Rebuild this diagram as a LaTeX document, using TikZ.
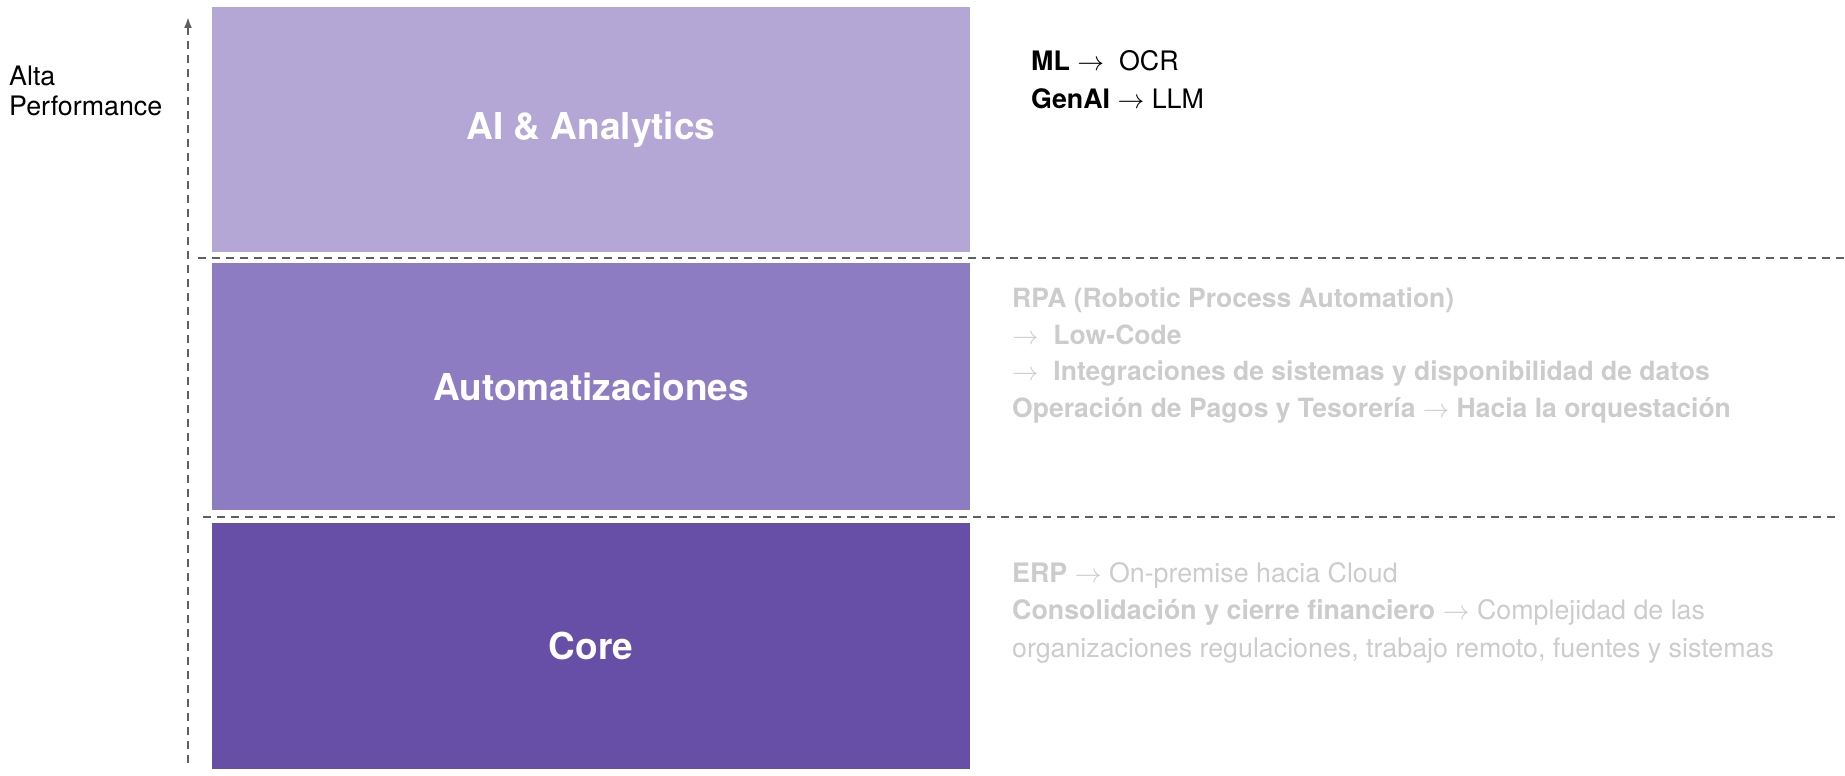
\documentclass[tikz,border=0pt]{standalone}
\usepackage{fix-cm}
\usepackage{fontspec}
\setmainfont{TeX Gyre Heros}
\usepackage{tikz}
\usetikzlibrary{arrows.meta, positioning}

\definecolor{aipurple}{HTML}{B4A7D6}
\definecolor{autopurple}{HTML}{8E7CC3}
\definecolor{corepurple}{HTML}{674EA7}
\definecolor{sepgray}{HTML}{5F5F5F}
\definecolor{notegray}{HTML}{CCCCCC}

\begin{document}
\begin{tikzpicture}[x=1pt, y=-1pt, >={Latex[length=11pt, width=8pt]},
  layer/.style={inner sep=0pt, outer sep=0pt, minimum width=758pt, minimum height=#1,
    text=white, font=\fontsize{37}{44}\selectfont\bfseries},
  sep/.style={draw=sepgray, line width=2pt, dash pattern=on 8pt off 6pt},
  note/.style={anchor=base west, align=left, inner sep=0pt}]
  \useasboundingbox (0,0) rectangle (1845,776);

  \node[layer=245pt, fill=aipurple] (ai) at (591,129.5) {AI \& Analytics};
  \node[layer=247pt, fill=autopurple, below=11pt of ai] (auto) {Automatizaciones};
  \node[layer=246pt, fill=corepurple, below=13pt of auto] (core) {Core};

  \draw[sep] (198,257.5) -- (1845,257.5);
  \draw[sep] (203,516.5) -- (1835,516.5);

  \coordinate (axis-bot) at (188,763);
  \coordinate (axis-top) at (188,17);
  \draw[sep, ->] (axis-bot) -- (axis-top);
  \node[note, font=\fontsize{26.8}{29.5}\selectfont] (perf) at (9,115) {Alta\\Performance};

  \node[note, text=black, font=\fontsize{26.8}{38}\selectfont] (ai-note) at (1031,108)
    {\textbf{ML} $\rightarrow$\ \ OCR\\\textbf{GenAI} $\rightarrow$ LLM};
  \node[note, text=notegray, font=\fontsize{26.5}{36.5}\selectfont\bfseries] (auto-note) at (1012,417)
    {RPA (Robotic Process Automation)\\
     $\rightarrow$\ \ Low-Code\\
     $\rightarrow$\ \ Integraciones de sistemas y disponibilidad de datos\\
     Operación de Pagos y Tesorería $\rightarrow$ Hacia la orquestación};
  \node[note, text=notegray, font=\fontsize{26.8}{37.5}\selectfont] (core-note) at (1012,657)
    {\textbf{ERP} $\rightarrow$ On-premise hacia Cloud\\
     \textbf{Consolidación y cierre financiero} $\rightarrow$ Complejidad de las\\
     organizaciones regulaciones, trabajo remoto, fuentes y sistemas};
\end{tikzpicture}
\end{document}
